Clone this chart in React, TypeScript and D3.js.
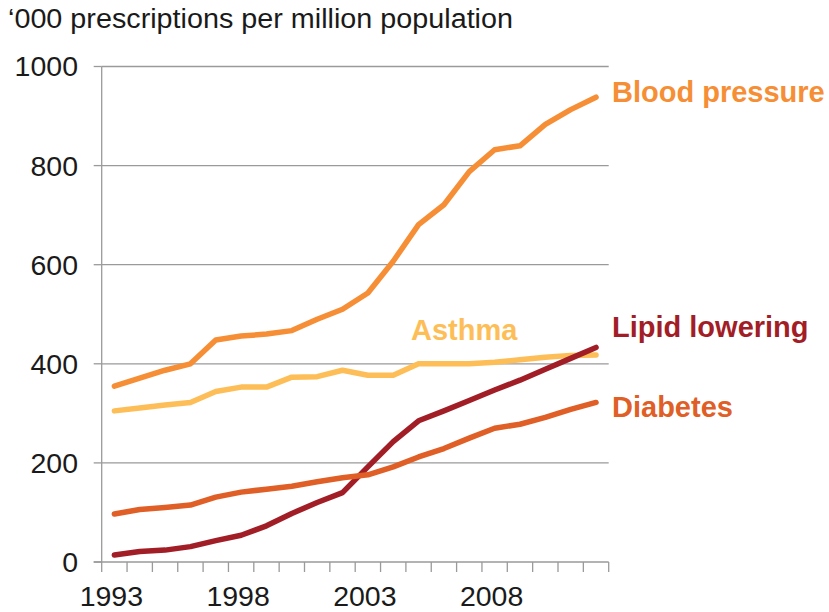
import React from "react";
import * as d3 from "d3";

const years = [1993,1994,1995,1996,1997,1998,1999,2000,2001,2002,2003,2004,2005,2006,2007,2008,2009,2010,2011,2012];
const bloodPressure = [355,371,387,400,448,456,460,467,490,510,543,607,681,721,788,832,840,883,913,938];
const asthma = [305,311,317,322,344,353,353,373,374,387,377,377,400,400,400,403,408,413,417,418];
const lipidLowering = [14,21,24,31,43,54,73,98,120,140,192,243,285,305,326,347,367,389,411,433];
const diabetes = [97,106,110,115,131,141,147,153,162,170,176,192,212,229,250,270,278,292,308,322];
const yTicks = [0,200,400,600,800,1000];
const xLabelYears = [1993,1998,2003,2008];

const series = [
  { name: "Blood pressure", values: bloodPressure, color: "#F68E36", lx: 612, ly: 102 },
  { name: "Asthma", values: asthma, color: "#FDBE57", lx: 411, ly: 340 },
  { name: "Lipid lowering", values: lipidLowering, color: "#A21E27", lx: 612, ly: 337 },
  { name: "Diabetes", values: diabetes, color: "#DF5F27", lx: 612, ly: 417 },
];

export default function App() {
  const left = 101.7, right = 608.7, top = 66.5, bottom = 562;
  const x = d3.scaleBand<number>().domain(years).range([left, right]).padding(0);
  const cx = (yr: number) => (x(yr) as number) + x.bandwidth() / 2;
  const y = d3.scaleLinear().domain([0, 1000]).range([bottom, top]);
  const line = d3.line<number>().x((_, i) => cx(years[i])).y((v) => y(v)).curve(d3.curveLinear);
  const grid = "#9a9a9a";
  const font = "Liberation Sans, Arial, sans-serif";
  const boundaries = years.map((yr) => x(yr) as number).concat([right]);

  return (
    <svg width={829} height={612} style={{ position: "absolute", left: 0, top: 0, background: "#fff" }} fontFamily={font}>
      <text x={8} y={28} fontSize={27} fill="#1a1a1a" textLength={505} lengthAdjust="spacingAndGlyphs">
        {"\u2018000 prescriptions per million  population"}
      </text>
      {yTicks.filter((t) => t > 0).map((t) => (
        <line key={"g" + t} x1={left} x2={right} y1={y(t)} y2={y(t)} stroke={grid} strokeWidth={1.3} />
      ))}
      <line x1={left} x2={left} y1={top} y2={bottom} stroke={grid} strokeWidth={1.3} />
      {yTicks.map((t) => (
        <line key={"yt" + t} x1={left - 8} x2={left} y1={y(t)} y2={y(t)} stroke={grid} strokeWidth={1.3} />
      ))}
      <line x1={left - 8} x2={right} y1={bottom} y2={bottom} stroke={grid} strokeWidth={1.3} />
      {boundaries.map((b, i) => (
        <line key={"xt" + i} x1={b} x2={b} y1={bottom} y2={bottom + 10} stroke={grid} strokeWidth={1.3} />
      ))}
      {yTicks.map((t) => (
        <text key={"yl" + t} x={78} y={y(t)} dy="0.35em" fontSize={28.5} textAnchor="end" fill="#1a1a1a">
          {t}
        </text>
      ))}
      {xLabelYears.map((yr) => (
        <text key={"xl" + yr} x={cx(yr) - 3} y={606} fontSize={28.5} textAnchor="middle" fill="#1a1a1a">
          {yr}
        </text>
      ))}
      {series.map((s) => (
        <path key={s.name} d={line(s.values) || ""} fill="none" stroke={s.color} strokeWidth={5.5} strokeLinejoin="round" strokeLinecap="round" />
      ))}
      {series.map((s) => (
        <text key={"lab" + s.name} x={s.lx} y={s.ly} fontSize={29} fontWeight="bold" fill={s.color}>
          {s.name}
        </text>
      ))}
    </svg>
  );
}
